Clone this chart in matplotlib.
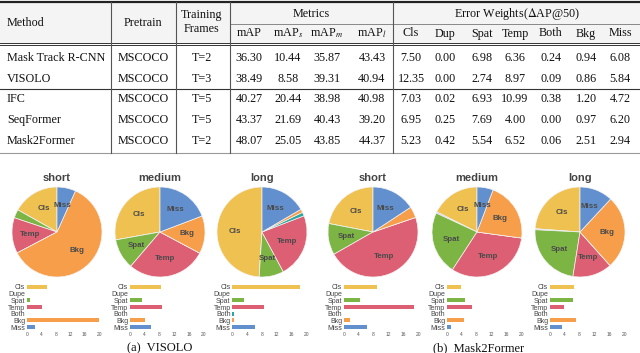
import matplotlib
matplotlib.use("Agg")
import matplotlib.pyplot as plt
from matplotlib.lines import Line2D

plt.rcParams.update({
    "mathtext.fontset": "stix",
    "font.family": "Liberation Serif",
})

W, H = 640, 353

# --- table data ---
methods = ["Mask Track R-CNN", "VISOLO", "IFC", "SeqFormer", "Mask2Former"]
pretrain = ["MSCOCO", "MSCOCO", "MSCOCO", "MSCOCO", "MSCOCO"]
frames = ["T=2", "T=3", "T=5", "T=5", "T=2"]
metric_names = ["mAP", "mAP$_s$", "mAP$_m$", "mAP$_l$"]
metrics = [
    [36.30, 10.44, 35.87, 43.43],
    [38.49, 8.58, 39.31, 40.94],
    [40.27, 20.44, 38.98, 40.98],
    [43.37, 21.69, 40.43, 39.20],
    [48.07, 25.05, 43.85, 44.37],
]
weight_names = ["Cls", "Dup", "Spat", "Temp", "Both", "Bkg", "Miss"]
weights = [
    [7.50, 0.00, 6.98, 6.36, 0.24, 0.94, 6.08],
    [12.35, 0.00, 2.74, 8.97, 0.09, 0.86, 5.84],
    [7.03, 0.02, 6.93, 10.99, 0.38, 1.20, 4.72],
    [6.95, 0.25, 7.69, 4.00, 0.00, 0.97, 6.20],
    [5.23, 0.42, 5.54, 6.52, 0.06, 2.51, 2.94],
]

err_types = ["Cls", "Dupe", "Spat", "Temp", "Both", "Bkg", "Miss"]
err_colors = ["#EFC150", "#A9AED0", "#7DB545", "#DD5F74", "#2BA7A2", "#F79E4B", "#6290CE"]
lengths = ["short", "medium", "long"]
visolo_err = [
    [5.5, 0.0, 1.0, 4.2, 0.0, 19.8, 2.2],
    [8.4, 0.0, 3.3, 8.6, 0.0, 4.1, 5.8],
    [18.3, 0.0, 3.3, 8.6, 0.5, 0.45, 6.2],
]
m2f_err = [
    [8.8, 0.0, 4.5, 18.8, 0.0, 1.6, 6.3],
    [3.8, 0.1, 4.9, 6.9, 0.0, 4.6, 1.25],
    [6.4, 0.1, 6.25, 3.8, 0.0, 7.1, 3.2],
]

fig = plt.figure(figsize=(W / 100, H / 100), dpi=100)


def fx(x):
    return x / W


def fy(y):
    return 1 - y / H


def hline(y, x0=0, x1=W, lw=0.8, color="#333333"):
    fig.add_artist(Line2D([fx(x0), fx(x1)], [fy(y), fy(y)], lw=lw, color=color))


def vline(x, y0, y1, lw=0.8, color="#555555"):
    fig.add_artist(Line2D([fx(x), fx(x)], [fy(y0), fy(y1)], lw=lw, color=color))


def txt(x, y, s, ha="center", size=8.7, **kw):
    fig.text(fx(x), fy(y), s, ha=ha, va="center", fontsize=size, color="#111111", **kw)


# header shading
fig.patches.append(plt.Rectangle((0, fy(43)), 1, fy(2) - fy(43), transform=fig.transFigure,
                                 facecolor="#f4f4f4", edgecolor="none", zorder=0))

# table lines
hline(2, lw=1.6, color="#222222")
hline(23.5, 230, W, lw=0.6, color="#777777")
hline(42.5, lw=0.7)
hline(45, lw=0.7)
hline(89, lw=0.8)
hline(153, lw=0.8, color="#999999")
for x in [111, 176, 230, 393]:
    vline(x, 2, 153)

# header text
txt(7, 22.5, "Method", ha="left")
txt(143, 22.5, "Pretrain")
txt(202, 15, "Training")
txt(202, 29, "Frames")
txt(311.5, 14, "Metrics")
txt(517, 14, "Error Weights($\\Delta$AP@50)")
metric_x = [249, 288, 327, 372]
weight_x = [411, 445, 482, 515, 551, 586, 620]
for x, s in zip(metric_x, metric_names):
    txt(x, 33.5, s)
for x, s in zip(weight_x, weight_names):
    txt(x, 33.5, s)

row_y = [58.3, 79, 99.5, 120, 141]
for i, y in enumerate(row_y):
    txt(7, y, methods[i], ha="left")
    txt(143, y, pretrain[i])
    txt(202, y, frames[i])
    for x, v in zip(metric_x, metrics[i]):
        txt(x, y, f"{v:.2f}")
    for x, v in zip(weight_x, weights[i]):
        txt(x, y, f"{v:.2f}")

# --- pies and bars ---
sans = "Liberation Sans"
pie_cx = [[57, 160, 262], [373, 477, 580]]
bar_x = [[(26.7, 99.3), (129.7, 203.7), (232, 306.7)],
         [(343.7, 418.3), (446.7, 521.3), (549.7, 624.3)]]
pie_cy, pie_r = 232, 45
bar_top, bar_bot = 283.6, 330.4

for g, data in enumerate([visolo_err, m2f_err]):
    for k, vals in enumerate(data):
        cx = pie_cx[g][k]
        ax = fig.add_axes([fx(cx - pie_r), fy(pie_cy + pie_r), 2 * pie_r / W, 2 * pie_r / H])
        total = sum(vals)
        labels = [t if v / total >= 0.05 else "" for t, v in zip(err_types, vals)]
        wedges, texts = ax.pie(vals, colors=err_colors, startangle=90, counterclock=True,
                               labels=labels, labeldistance=0.6,
                               wedgeprops=dict(edgecolor="#f4f4f4", linewidth=0.5))
        for t in texts:
            t.set_ha("center")
            t.set_va("center")
            t.set_fontsize(5.7)
            t.set_fontweight("bold")
            t.set_color("#4a4a4a")
            t.set_family(sans)
        ax.set_xlim(-1, 1)
        ax.set_ylim(-1, 1)
        fig.text(fx(cx), fy(178), lengths[k], ha="center", va="center", fontsize=8,
                 fontweight="bold", color="#444444", family=sans)

        x0, x1 = bar_x[g][k]
        bx = fig.add_axes([fx(x0), fy(bar_bot), (x1 - x0) / W, (bar_bot - bar_top) / H])
        bx.barh(range(len(vals)), vals, height=0.62, color=err_colors, edgecolor="none")
        bx.set_xlim(0, 20)
        bx.set_ylim(len(vals) - 0.5, -0.5)
        bx.set_yticks(range(len(vals)))
        bx.set_yticklabels(err_types, family=sans, fontsize=5, color="#444444")
        bx.set_xticks([0, 4, 8, 12, 16, 20])
        bx.set_xticklabels(["0", "4", "8", "12", "16", "20"], family=sans, fontsize=3.5,
                           color="#555555")
        bx.tick_params(length=0, pad=1)
        for s in bx.spines.values():
            s.set_visible(False)

txt(160, 348.5, "(a)  VISOLO", size=9)
txt(479, 348.5, "(b)  Mask2Former", size=9)

fig.savefig("out.png", dpi=100)
